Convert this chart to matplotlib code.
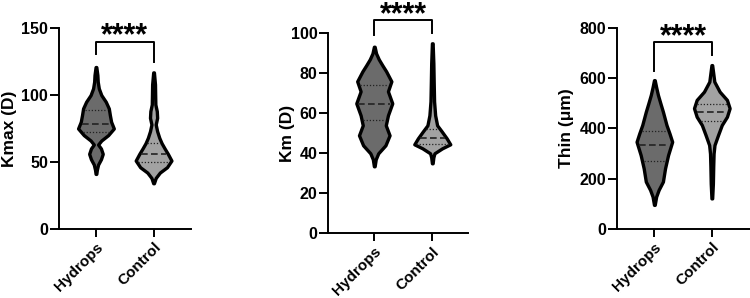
#!/usr/bin/env python3
"""Violin plots: Kmax, Km and thinnest thickness, Hydrops vs Control."""

import matplotlib
matplotlib.use("Agg")
import matplotlib.pyplot as plt
import numpy as np

plt.rcParams["font.family"] = ["Liberation Sans", "DejaVu Sans"]
plt.rcParams["font.weight"] = "bold"

groups = ["Hydrops", "Control"]

# Kmax (D): violin outline (value, relative width)
kmax_hyd_y = [41, 44, 48, 52, 56, 60, 63, 66, 70, 75, 80, 85, 90, 95, 100, 105, 110, 115, 121]
kmax_hyd_w = [0.02, 0.05, 0.12, 0.28, 0.38, 0.28, 0.12, 0.3, 0.68, 1.0, 0.85, 0.78, 0.72, 0.55, 0.3, 0.16, 0.1, 0.08, 0.02]
kmax_hyd_q = [72.1, 78.6, 88.6]
kmax_ctl_y = [34, 38, 42, 46, 51, 56, 60, 64, 68, 73, 78, 83, 88, 93, 100, 108, 117]
kmax_ctl_w = [0.02, 0.12, 0.35, 0.75, 1.0, 0.8, 0.62, 0.45, 0.32, 0.2, 0.12, 0.2, 0.18, 0.1, 0.09, 0.08, 0.02]
kmax_ctl_q = [50.0, 55.9, 64.4]

# Km (D)
km_hyd_y = [33.5, 37, 40, 44, 49, 54, 59, 65, 71, 76, 81, 84, 87, 90, 93.3]
km_hyd_w = [0.02, 0.08, 0.22, 0.62, 0.85, 0.64, 0.76, 1.0, 0.76, 0.95, 0.66, 0.45, 0.25, 0.1, 0.02]
km_hyd_q = [56.5, 64.9, 74.2]
km_ctl_y = [35, 38, 40, 42.5, 44.5, 47.5, 51, 54, 59, 66, 75, 85, 95]
km_ctl_w = [0.02, 0.06, 0.12, 0.55, 1.0, 0.8, 0.52, 0.27, 0.16, 0.1, 0.08, 0.06, 0.02]
km_ctl_q = [44.5, 47.5, 52.1]

# Thinnest thickness (um)
thin_hyd_y = [95, 128, 155, 188, 241, 294, 347, 380, 414, 467, 500, 534, 565, 593]
thin_hyd_w = [0.02, 0.1, 0.24, 0.48, 0.6, 0.77, 1.0, 0.85, 0.68, 0.48, 0.34, 0.2, 0.1, 0.02]
thin_hyd_q = [269, 334, 388]
thin_ctl_y = [121, 180, 250, 300, 334, 374, 414, 447, 481, 514, 547, 587, 620, 653]
thin_ctl_w = [0.02, 0.06, 0.08, 0.1, 0.15, 0.35, 0.56, 0.85, 1.0, 0.85, 0.44, 0.14, 0.08, 0.02]
thin_ctl_q = [428, 464, 497]

panels = [
    dict(label="Kmax (D)", ylim=150, ticks=[0, 50, 100, 150],
         violins=[(kmax_hyd_y, kmax_hyd_w, kmax_hyd_q), (kmax_ctl_y, kmax_ctl_w, kmax_ctl_q)],
         bracket=(140, 131, 125),
         rect=[0.0783, 0.2326, 0.1764, 0.6725], xlim=(-0.646, 1.65), labelx=-0.338),
    dict(label="Km (D)", ylim=100, ticks=[0, 20, 40, 60, 80, 100],
         violins=[(km_hyd_y, km_hyd_w, km_hyd_q), (km_ctl_y, km_ctl_w, km_ctl_q)],
         bracket=(106.7, 99.2, 100),
         rect=[0.4377, 0.2171, 0.1867, 0.6711], xlim=(-0.793, 1.621), labelx=-0.257),
    dict(label="Thin (\u03bcm)", ylim=800, ticks=[0, 200, 400, 600, 800],
         violins=[(thin_hyd_y, thin_hyd_w, thin_hyd_q), (thin_ctl_y, thin_ctl_w, thin_ctl_q)],
         bracket=(745, 631, 693),
         rect=[0.8227, 0.2326, 0.18, 0.6725], xlim=(-0.65, 1.70), labelx=-0.343),
]

fills = ["#6b6b6b", "#a2a2a2"]
half_scale = 0.31

fig = plt.figure(figsize=(7.5, 2.98), dpi=100)

for p in panels:
    ax = fig.add_axes(p["rect"])
    stats = []
    for ys, ws, q in p["violins"]:
        ys = np.asarray(ys, float)
        ws = np.asarray(ws, float)
        stats.append(dict(coords=ys, vals=ws, mean=q[1], median=q[1],
                          min=ys[0], max=ys[-1], quantiles=[]))
    parts = ax.violin(stats, positions=[0, 1], widths=2 * half_scale,
                      showmeans=False, showextrema=False, showmedians=False)
    for body, fc in zip(parts["bodies"], fills):
        body.set_facecolor(fc)
        body.set_edgecolor("black")
        body.set_linewidth(2.4)
        body.set_alpha(1)
        body.set_joinstyle("round")

    # quartile lines
    for pos, (ys, ws, q) in enumerate(p["violins"]):
        for k, val in enumerate(q):
            half = half_scale * np.interp(val, ys, ws) - 0.03
            style = (0, (4, 2)) if k == 1 else (0, (1, 1.5))
            ax.plot([pos - half, pos + half], [val, val], color="#222222",
                    lw=1.2 if k == 1 else 0.9, linestyle=style, zorder=3)

    # significance bracket
    top, left_end, right_end = p["bracket"]
    ax.plot([0, 0, 1, 1], [left_end, top, top, right_end], color="black",
            lw=1.4, clip_on=False)
    ax.annotate("****", xy=(0.5, top), xytext=(0, -2.2), textcoords="offset points",
                ha="center", va="baseline", fontsize=22, fontweight="bold",
                annotation_clip=False)

    ax.set_xlim(*p["xlim"])
    ax.set_ylim(0, p["ylim"])
    ax.set_yticks(p["ticks"])
    ax.set_xticks([0, 1])
    ax.set_xticklabels(groups, rotation=45, ha="right", rotation_mode="anchor",
                       fontsize=11, fontweight="bold")
    ax.tick_params(axis="y", labelsize=11.5, length=6.3, width=1.4, pad=1.5)
    ax.tick_params(axis="x", length=6, width=1.4, pad=2)
    for lbl in ax.get_yticklabels():
        lbl.set_fontweight("bold")
    ax.set_ylabel(p["label"], fontsize=12.5, fontweight="bold")
    ax.yaxis.label.set_verticalalignment("baseline")
    ax.yaxis.set_label_coords(p["labelx"], 0.5)
    ax.spines["top"].set_visible(False)
    ax.spines["right"].set_visible(False)
    ax.spines["left"].set_linewidth(1.4)
    ax.spines["bottom"].set_linewidth(1.4)
    ax.patch.set_visible(False)

fig.savefig("out.png", dpi=100)
